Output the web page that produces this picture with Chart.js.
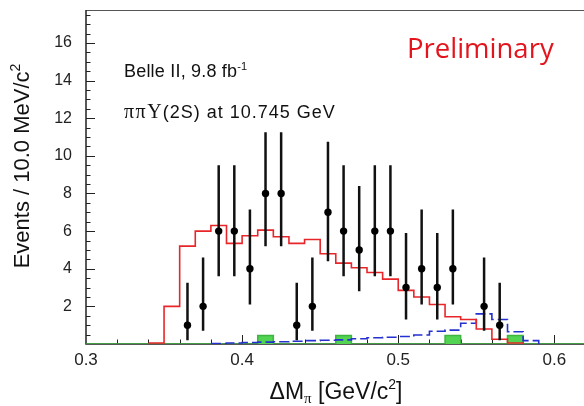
<!DOCTYPE html>
<html>
<head>
<meta charset="utf-8">
<title>ΔMπ distribution</title>
<script src="https://cdn.jsdelivr.net/npm/chart.js@4.4.1/dist/chart.umd.min.js"></script>
<style>
  html, body { margin: 0; padding: 0; background: #fff; }
  #wrap { width: 584px; height: 406px; }
</style>
</head>
<body>
<div id="wrap"><canvas id="dmChart" width="584" height="406"></canvas></div>
<script>
// 10 MeV/c^2 bins
const binWidth = 0.01;

// data: bin centres, counts, Poisson interval ends
const dataX  = [0.365, 0.375, 0.385, 0.395, 0.405, 0.415, 0.425, 0.435, 0.445, 0.455,
                0.465, 0.475, 0.485, 0.495, 0.505, 0.515, 0.525, 0.535, 0.555, 0.565];
const dataY  = [1, 2, 6, 6, 4, 8, 8, 1, 2, 7, 6, 5, 6, 6, 3, 4, 3, 4, 2, 1];
const errLow = [0.2, 0.7, 3.6, 3.6, 2.1, 5.2, 5.2, 0.2, 0.7, 4.4,
                3.6, 2.8, 3.6, 3.6, 1.3, 2.1, 1.3, 2.1, 0.7, 0.2];
const errHigh = [3.25, 4.6, 9.5, 9.5, 7.15, 11.25, 11.25, 3.25, 4.6, 10.75,
                 9.5, 8.4, 9.5, 9.5, 5.9, 7.15, 5.9, 7.15, 4.6, 3.25];

// signal shape (red), first bin starts at 0.34
const sigStart = 0.34;
const sigCounts = [0.05, 2.0, 5.2, 6.0, 6.3, 5.35, 5.75, 6.05, 5.7, 5.35, 5.55, 4.8,
                   4.3, 4.05, 3.8, 3.45, 2.85, 2.5, 2.1, 1.45, 1.3, 0.8, 0.25, 0.05];

// combinatorial background (blue dashed), first bin starts at 0.38
const bkgStart = 0.38;
const bkgCounts = [0.03, 0.05, 0.08, 0.1, 0.12, 0.15, 0.18, 0.2, 0.22, 0.28, 0.33,
                   0.36, 0.4, 0.48, 0.68, 0.74, 1.1, 1.6, 1.3, 0.65, 0.18];

// peaking background (green), first bin starts at 0.30
const peakStart = 0.30;
const peakCounts = [0, 0, 0, 0, 0, 0, 0, 0, 0, 0, 0, 0.45, 0, 0, 0, 0, 0.45, 0, 0, 0,
                    0, 0, 0, 0.45, 0, 0, 0, 0.45, 0, 0, 0, 0];

const xTicks = [0.3, 0.4, 0.5, 0.6];
const yTicks = [2, 4, 6, 8, 10, 12, 14, 16];

const X_MIN = 0.3, X_MAX = 0.619, Y_MAX = 17.75;
const SANS = '"Liberation Sans", Arial, sans-serif';
const SERIF = '"Liberation Serif", "Times New Roman", serif';

// step histogram: one point per lower bin edge, plus the closing edge
function histPoints(start, counts) {
  const pts = counts.map((c, i) => ({ x: start + i * binWidth, y: c }));
  pts.push({ x: start + counts.length * binWidth, y: 0 });
  return pts;
}

// draw a row of text pieces (sub/superscripts via dy, optional letter spacing)
function drawRuns(ctx, x, y, runs, align) {
  const widthOf = r => {
    ctx.font = r.font;
    ctx.letterSpacing = r.ls || '0px';
    return ctx.measureText(r.t).width + (r.gap || 0);
  };
  const total = runs.reduce((s, r) => s + widthOf(r), 0);
  let cx = align === 'center' ? x - total / 2 : x;
  ctx.textAlign = 'left';
  ctx.textBaseline = 'alphabetic';
  runs.forEach(r => {
    const w = widthOf(r);
    ctx.fillText(r.t, cx, y + (r.dy || 0));
    cx += w;
  });
  ctx.letterSpacing = '0px';
}

// frame with inward ticks
const framePlugin = {
  id: 'frame',
  beforeDatasetsDraw(chart) {
    const { ctx, chartArea: a, scales: { x, y } } = chart;
    ctx.save();
    ctx.strokeStyle = '#555';
    ctx.lineWidth = 1;
    ctx.beginPath();
    ctx.moveTo(a.left, a.top + 0.5);
    ctx.lineTo(a.right, a.top + 0.5);
    ctx.stroke();
    ctx.strokeStyle = '#222';
    ctx.lineWidth = 1.5;
    ctx.beginPath();
    ctx.moveTo(a.left, a.top);
    ctx.lineTo(a.left, a.bottom);
    ctx.lineTo(a.right, a.bottom);
    ctx.stroke();
    ctx.lineWidth = 1;
    ctx.beginPath();
    for (let k = 1; k * 0.5 < Y_MAX; k++) {
      const py = Math.round(y.getPixelForValue(k * 0.5)) + 0.5;
      const len = k % 4 === 0 ? 9 : 4.5;
      ctx.moveTo(a.left, py);
      ctx.lineTo(a.left + len, py);
    }
    for (let k = 1; X_MIN + k * 0.02 < X_MAX; k++) {
      const px = Math.round(x.getPixelForValue(X_MIN + k * 0.02)) + 0.5;
      const len = k % 5 === 0 ? 9 : 4.5;
      ctx.moveTo(px, a.bottom);
      ctx.lineTo(px, a.bottom - len);
    }
    ctx.stroke();
    ctx.restore();
  }
};

// asymmetric error bars under the data dots
const errorBarPlugin = {
  id: 'errorBars',
  beforeDatasetDraw(chart, args) {
    if (args.index !== 0) return;
    const { ctx, scales: { x, y } } = chart;
    ctx.save();
    ctx.strokeStyle = '#111';
    ctx.lineWidth = 2.5;
    ctx.beginPath();
    dataX.forEach((v, i) => {
      const px = x.getPixelForValue(v);
      ctx.moveTo(px, y.getPixelForValue(errLow[i]));
      ctx.lineTo(px, y.getPixelForValue(errHigh[i]));
    });
    ctx.stroke();
    ctx.restore();
  }
};

// axis titles and labels
const textPlugin = {
  id: 'texts',
  afterDraw(chart) {
    const { ctx } = chart;
    ctx.save();
    ctx.fillStyle = '#111';
    drawRuns(ctx, 336, 399, [
      { t: 'ΔM', font: '23px ' + SANS },
      { t: 'π', font: '15px ' + SERIF, dy: 4 },
      { t: ' [GeV/c', font: '23px ' + SANS },
      { t: '2', font: '14px ' + SANS, dy: -10 },
      { t: ']', font: '23px ' + SANS }
    ], 'center');

    ctx.save();
    ctx.translate(29, 166);
    ctx.rotate(-Math.PI / 2);
    drawRuns(ctx, 0, 0, [
      { t: 'Events / 10.0 MeV/c', font: '22px ' + SANS },
      { t: '2', font: '14px ' + SANS, dy: -9 }
    ], 'center');
    ctx.restore();

    drawRuns(ctx, 124, 77, [
      { t: 'Belle II, 9.8 fb', font: '18px ' + SANS, ls: '0.2px' },
      { t: '-1', font: '11px ' + SANS, dy: -7 }
    ]);
    drawRuns(ctx, 124, 118, [
      { t: 'π', font: '20px ' + SERIF, gap: 1.5 },
      { t: 'π', font: '20px ' + SERIF, gap: 1.5 },
      { t: 'Υ', font: '20px ' + SERIF, gap: 1 },
      { t: '(2S) at 10.745 GeV', font: '18px ' + SANS, ls: '1px' }
    ]);

    ctx.fillStyle = '#e3141c';
    drawRuns(ctx, 407, 58, [{ t: 'Preliminary', font: '27.5px "Open Sans", sans-serif' }]);
    ctx.restore();
  }
};

new Chart(document.getElementById('dmChart'), {
  type: 'scatter',
  data: {
    datasets: [
      {
        label: 'Data',
        data: dataX.map((v, i) => ({ x: v, y: dataY[i] })),
        pointRadius: 3.7,
        pointBackgroundColor: '#000',
        pointBorderWidth: 0
      },
      {
        type: 'line',
        label: 'Signal',
        data: histPoints(sigStart, sigCounts),
        stepped: true,
        borderColor: '#e8262a',
        borderWidth: 1.6,
        pointRadius: 0,
        fill: false
      },
      {
        type: 'line',
        label: 'Combinatorial',
        data: histPoints(bkgStart, bkgCounts),
        stepped: true,
        borderColor: '#2430d0',
        borderWidth: 1.6,
        borderDash: [10, 4],
        pointRadius: 0,
        fill: false
      },
      {
        type: 'line',
        label: 'Peaking',
        data: histPoints(peakStart, peakCounts),
        stepped: true,
        borderColor: '#3fb43f',
        backgroundColor: '#52d452',
        borderWidth: 1.5,
        pointRadius: 0,
        fill: 'origin'
      }
    ]
  },
  options: {
    responsive: false,
    animation: false,
    devicePixelRatio: 1,
    layout: { autoPadding: false, padding: { top: 10, left: 0, right: 0, bottom: 0 } },
    plugins: { legend: { display: false }, tooltip: { enabled: false } },
    scales: {
      x: {
        type: 'linear', min: X_MIN, max: X_MAX,
        afterFit: s => { s.height = 62; s.paddingLeft = 0; s.paddingRight = 0; },
        afterBuildTicks: s => { s.ticks = xTicks.map(v => ({ value: v })); },
        grid: { display: false, drawTicks: false },
        border: { display: false },
        ticks: {
          autoSkip: false, maxRotation: 0, padding: 6, color: '#222',
          font: { family: SANS, size: 17 },
          callback: v => v.toFixed(1)
        }
      },
      y: {
        min: 0, max: Y_MAX,
        afterFit: s => { s.width = 86; s.paddingTop = 0; s.paddingBottom = 0; },
        afterBuildTicks: s => { s.ticks = yTicks.map(v => ({ value: v })); },
        grid: { display: false, drawTicks: false },
        border: { display: false },
        ticks: { padding: 14, color: '#222', font: { family: SANS, size: 16 } }
      }
    }
  },
  plugins: [framePlugin, errorBarPlugin, textPlugin]
});
</script>
</body>
</html>
